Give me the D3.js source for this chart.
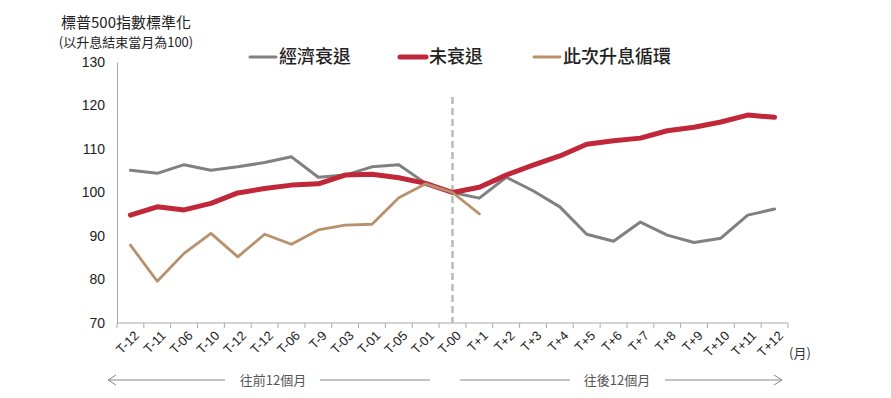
<!DOCTYPE html>
<html>
<head>
<meta charset="utf-8">
<script src="https://cdn.jsdelivr.net/npm/d3@7"></script>
<style>
  body { margin: 0; background: #fff; }
  svg { display: block; font-family: "Liberation Sans", Arial, "Noto Sans CJK TC", sans-serif; }
  .cjk { font-family: "Noto Sans CJK TC", sans-serif; }
</style>
</head>
<body>
<svg id="chart" width="891" height="398"></svg>
<script>
const months = ['T-12', 'T-11', 'T-06', 'T-10', 'T-12', 'T-12', 'T-06', 'T-9', 'T-03', 'T-01', 'T-05', 'T-01', 'T-00',
    'T+1', 'T+2', 'T+3', 'T+4', 'T+5', 'T+6', 'T+7', 'T+8', 'T+9', 'T+10', 'T+11', 'T+12']
const recession = [105.1, 104.4, 106.4, 105.1, 105.9, 106.9, 108.2, 103.5, 104.0, 105.9, 106.4, 102.1, 100,
    98.7, 103.5, 100.4, 96.7, 90.4, 88.8, 93.2, 90.2, 88.5, 89.5, 94.8, 96.2]
const noRecession = [94.8, 96.7, 96.0, 97.5, 99.9, 100.9, 101.7, 102.0, 104.0, 104.2, 103.4, 102.1, 100,
    101.2, 104.0, 106.3, 108.4, 111.1, 111.9, 112.5, 114.2, 115.0, 116.2, 117.8, 117.3]
const thisCycle = [87.9, 79.6, 86.0, 90.6, 85.2, 90.4, 88.1, 91.4, 92.5, 92.7, 98.8, 102.0, 100, 95.1]
const yTicks = [70, 80, 90, 100, 110, 120, 130]

const series = [
    { name: '經濟衰退', values: recession, color: '#808080', width: 3 },
    { name: '未衰退', values: noRecession, color: '#c0283a', width: 5 },
    { name: '此次升息循環', values: thisCycle, color: '#b8916c', width: 2.8 }
]

const svg = d3.select('#chart')
const plotLeft = 117, plotRight = 788, plotTop = 62, plotBottom = 323

const x = d3.scaleBand().domain(d3.range(months.length)).range([plotLeft, plotRight])
const y = d3.scaleLinear().domain([70, 130]).range([plotBottom, plotTop])
const cx = i => x(i) + x.bandwidth() / 2

// titles
svg.append('text').attr('class', 'cjk').attr('x', 126).attr('y', 28)
    .attr('text-anchor', 'middle').attr('font-size', 15).attr('fill', '#222')
    .text('標普500指數標準化')
svg.append('text').attr('class', 'cjk').attr('x', 126).attr('y', 47)
    .attr('text-anchor', 'middle').attr('font-size', 13).attr('fill', '#222')
    .text('(以升息結束當月為100)')

// y axis
const yAxis = svg.append('g').attr('transform', `translate(${plotLeft},0)`)
    .call(d3.axisLeft(y).tickValues(yTicks).tickSize(0).tickPadding(12))
yAxis.select('.domain').attr('stroke', '#aaa')
yAxis.selectAll('text').attr('font-size', 14).attr('fill', '#222')
    .attr('font-family', '"Liberation Sans", Arial, sans-serif')

// x axis line + ticks between categories
svg.append('line').attr('x1', plotLeft).attr('x2', plotRight).attr('y1', plotBottom).attr('y2', plotBottom).attr('stroke', '#aaa')
svg.selectAll('.xtick').data(d3.range(months.length + 1)).enter().append('line')
    .attr('x1', i => plotLeft + i * x.step()).attr('x2', i => plotLeft + i * x.step())
    .attr('y1', plotBottom).attr('y2', plotBottom + 5).attr('stroke', '#aaa')

svg.selectAll('.xlabel').data(months).enter().append('text')
    .attr('transform', (d, i) => `translate(${cx(i) + 3},${plotBottom + 7}) rotate(-45)`)
    .attr('text-anchor', 'end').attr('dy', '0.7em')
    .attr('font-size', 13).attr('fill', '#222')
    .text(d => d)

svg.append('text').attr('class', 'cjk').attr('x', 789).attr('y', 358)
    .attr('font-size', 13).attr('fill', '#333').text('(月)')

// dashed divider at T-00
svg.append('line').attr('x1', cx(12)).attr('x2', cx(12)).attr('y1', 97).attr('y2', plotBottom)
    .attr('stroke', '#bbb').attr('stroke-width', 2.5).attr('stroke-dasharray', '7,4')

// lines
const line = d3.line().x((d, i) => cx(i)).y(d => y(d))
series.forEach(s => {
    svg.append('path').datum(s.values)
        .attr('fill', 'none').attr('stroke', s.color).attr('stroke-width', s.width)
        .attr('stroke-linejoin', 'round').attr('stroke-linecap', 'round')
        .attr('d', line)
})

// legend
const legendX = [250, 400, 534]
series.forEach((s, k) => {
    const g = svg.append('g').attr('transform', `translate(${legendX[k]},57)`)
    g.append('line').attr('x1', 0).attr('x2', 26).attr('stroke', s.color).attr('stroke-width', s.width)
        .attr('stroke-linecap', 'round')
    g.append('text').attr('class', 'cjk').attr('x', 29).attr('dy', '0.36em')
        .attr('font-size', 18).attr('font-weight', 500).attr('fill', '#222').text(s.name)
})

// bottom arrows
const arrowY = 380
const grey = '#888'
const seg = (x1, x2) => svg.append('line').attr('x1', x1).attr('x2', x2)
    .attr('y1', arrowY).attr('y2', arrowY).attr('stroke', grey).attr('stroke-width', 1)
seg(108, 225); seg(320, 430); seg(460, 570); seg(665, 782)
svg.append('path').attr('d', `M${116},${arrowY - 5}L108,${arrowY}L116,${arrowY + 5}`)
    .attr('fill', 'none').attr('stroke', grey)
svg.append('path').attr('d', `M${774},${arrowY - 5}L782,${arrowY}L774,${arrowY + 5}`)
    .attr('fill', 'none').attr('stroke', grey)
svg.append('text').attr('class', 'cjk').attr('x', 273).attr('y', arrowY).attr('dy', '0.35em')
    .attr('text-anchor', 'middle').attr('font-size', 13).attr('fill', '#555').text('往前12個月')
svg.append('text').attr('class', 'cjk').attr('x', 617).attr('y', arrowY).attr('dy', '0.35em')
    .attr('text-anchor', 'middle').attr('font-size', 13).attr('fill', '#555').text('往後12個月')
</script>
</body>
</html>
